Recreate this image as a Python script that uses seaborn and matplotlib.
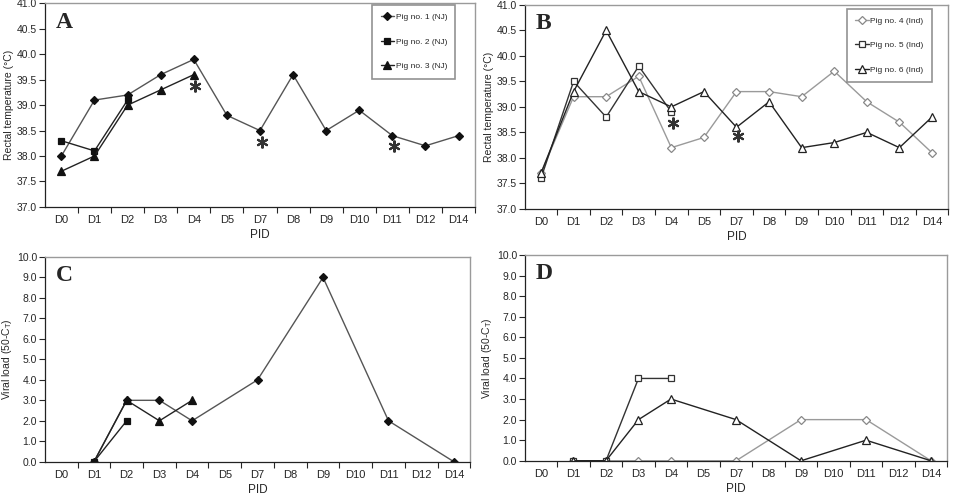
import matplotlib
matplotlib.use("Agg")
import matplotlib.pyplot as plt
import numpy as np
import pandas as pd
import seaborn as sns

nan = np.nan

# post-infection days (categorical axis)
days = ['D0', 'D1', 'D2', 'D3', 'D4', 'D5', 'D7', 'D8', 'D9', 'D10', 'D11', 'D12', 'D14']

# rectal temperature (deg C)
temp_pig1 = [38.0, 39.1, 39.2, 39.6, 39.9, 38.8, 38.5, 39.6, 38.5, 38.9, 38.4, 38.2, 38.4]
temp_pig2 = [38.3, 38.1, 39.1, nan, nan, nan, nan, nan, nan, nan, nan, nan, nan]
temp_pig3 = [37.7, 38.0, 39.0, 39.3, 39.6, nan, nan, nan, nan, nan, nan, nan, nan]
temp_pig4 = [37.7, 39.2, 39.2, 39.6, 38.2, 38.4, 39.3, 39.3, 39.2, 39.7, 39.1, 38.7, 38.1]
temp_pig5 = [37.6, 39.5, 38.8, 39.8, 38.9, nan, nan, nan, nan, nan, nan, nan, nan]
temp_pig6 = [37.7, 39.3, 40.5, 39.3, 39.0, 39.3, 38.6, 39.1, 38.2, 38.3, 38.5, 38.2, 38.8]

# viral load (50 - Ct)
vl_pig1 = [nan, 0.0, 3.0, 3.0, 2.0, nan, 4.0, nan, 9.0, nan, 2.0, nan, 0.0]
vl_pig2 = [nan, 0.0, 2.0, nan, nan, nan, nan, nan, nan, nan, nan, nan, nan]
vl_pig3 = [nan, 0.0, 3.0, 2.0, 3.0, nan, nan, nan, nan, nan, nan, nan, nan]
vl_pig4 = [nan, 0.0, 0.0, 0.0, 0.0, nan, 0.0, nan, 2.0, nan, 2.0, nan, 0.0]
vl_pig5 = [nan, 0.0, 0.0, 4.0, 4.0, nan, nan, nan, nan, nan, nan, nan, nan]
vl_pig6 = [nan, 0.0, 0.0, 2.0, 3.0, nan, 2.0, nan, 0.0, nan, 1.0, nan, 0.0]

labels_nj = ['Pig no. 1 (NJ)', 'Pig no. 2 (NJ)', 'Pig no. 3 (NJ)']
labels_ind = ['Pig no. 4 (Ind)', 'Pig no. 5 (Ind)', 'Pig no. 6 (Ind)']

# significance asterisks (day, y)
stars_a = [('D4', 39.37), ('D7', 38.28), ('D11', 38.19)]
stars_b = [('D4', 38.68), ('D7', 38.42)]

sns.set_style("white")
plt.rcParams['font.family'] = ['Liberation Sans', 'DejaVu Sans']

# style per pig: marker, line colour, marker face, marker edge, size
st_nj = [('D', '#555555', '#111111', '#111111', 4.5),
         ('s', '#222222', '#111111', '#111111', 5),
         ('^', '#222222', '#111111', '#111111', 5.5)]
st_ind = [('D', '#9a9a9a', 'white', '#888888', 3.8),
          ('s', '#333333', 'white', '#333333', 5),
          ('^', '#222222', 'white', '#222222', 5.5)]

fig = plt.figure(figsize=(9.54, 4.96), dpi=100)
ax_a = fig.add_axes([0.047, 0.583, 0.451, 0.410])
ax_b = fig.add_axes([0.550, 0.579, 0.444, 0.411])
ax_c = fig.add_axes([0.047, 0.069, 0.446, 0.413])
ax_d = fig.add_axes([0.550, 0.071, 0.443, 0.415])


def draw_series(ax, series, styles, labels=None):
    for i, (vals, st) in enumerate(zip(series, styles)):
        df = pd.DataFrame({'pos': np.arange(len(days)), 'val': vals}).dropna()
        mk, lc, fc, ec, ms = st
        kw = {}
        if labels is not None:
            kw['label'] = labels[i]
        sns.lineplot(data=df, x='pos', y='val', ax=ax, color=lc, lw=1.0,
                     marker=mk, markersize=ms, markerfacecolor=fc,
                     markeredgecolor=ec, markeredgewidth=0.9, sort=False, **kw)


def style_axes(ax, ylo, yhi, ystep, ylabel, letter):
    ax.set_xlim(-0.5, len(days) - 0.5)
    ax.set_ylim(ylo, yhi)
    ax.set_xticks(np.arange(len(days)) + 0.5)
    ax.set_xticklabels([])
    ax.set_xticks(np.arange(len(days)), minor=True)
    ax.set_xticklabels(days, minor=True, fontsize=8)
    ax.tick_params(axis='x', which='major', direction='out', length=4, width=0.8, bottom=True)
    ax.tick_params(axis='x', which='minor', length=0, pad=6)
    yt = np.arange(ylo, yhi + ystep / 2, ystep)
    ax.set_yticks(yt)
    ax.set_yticklabels([f"{v:.1f}" for v in yt], fontsize=7.5)
    ax.tick_params(axis='y', direction='out', length=4, width=0.8, left=True, pad=1.5)
    for side in ['left', 'bottom']:
        ax.spines[side].set_color('#222222')
        ax.spines[side].set_linewidth(0.9)
    for side in ['top', 'right']:
        ax.spines[side].set_color('#9a9a9a')
        ax.spines[side].set_linewidth(1.0)
    ax.set_xlabel('PID', fontsize=8.5, labelpad=3)
    ax.set_ylabel(ylabel, fontsize=7.5, labelpad=2)
    ax.text(0.025, 0.96, letter, transform=ax.transAxes, ha='left', va='top',
            fontsize=17, fontweight='bold', family='Liberation Serif')


draw_series(ax_a, [temp_pig1, temp_pig2, temp_pig3], st_nj, labels_nj)
draw_series(ax_b, [temp_pig4, temp_pig5, temp_pig6], st_ind, labels_ind)
draw_series(ax_c, [vl_pig1, vl_pig2, vl_pig3], st_nj)
draw_series(ax_d, [vl_pig4, vl_pig5, vl_pig6], st_ind)

style_axes(ax_a, 37.0, 41.0, 0.5, 'Rectal temperature (°C)', 'A')
style_axes(ax_b, 37.0, 41.0, 0.5, 'Rectal temperature (°C)', 'B')
style_axes(ax_c, 0.0, 10.0, 1.0, 'Viral load (50-C$_\\mathregular{T}$)', 'C')
style_axes(ax_d, 0.0, 10.0, 1.0, 'Viral load (50-C$_\\mathregular{T}$)', 'D')

for ax, stars in [(ax_a, stars_a), (ax_b, stars_b)]:
    sx = [days.index(d) + 0.05 for d, _ in stars]
    sy = [y for _, y in stars]
    ax.plot(sx, sy, linestyle='none', marker=(6, 2, 0), markersize=8.5,
            markeredgewidth=1.5, color='#333333')

for ax, anchor in [(ax_a, (0.958, 1.0)), (ax_b, (0.965, 0.99))]:
    leg = ax.legend(loc='upper right', bbox_to_anchor=anchor, fontsize=6,
                    handlelength=1.6, labelspacing=2.0, borderpad=1.0,
                    handletextpad=0.2, frameon=True, fancybox=False,
                    borderaxespad=0.2)
    leg.get_frame().set_edgecolor('#777777')
    leg.get_frame().set_linewidth(1.2)

fig.savefig('out.png', dpi=100)
